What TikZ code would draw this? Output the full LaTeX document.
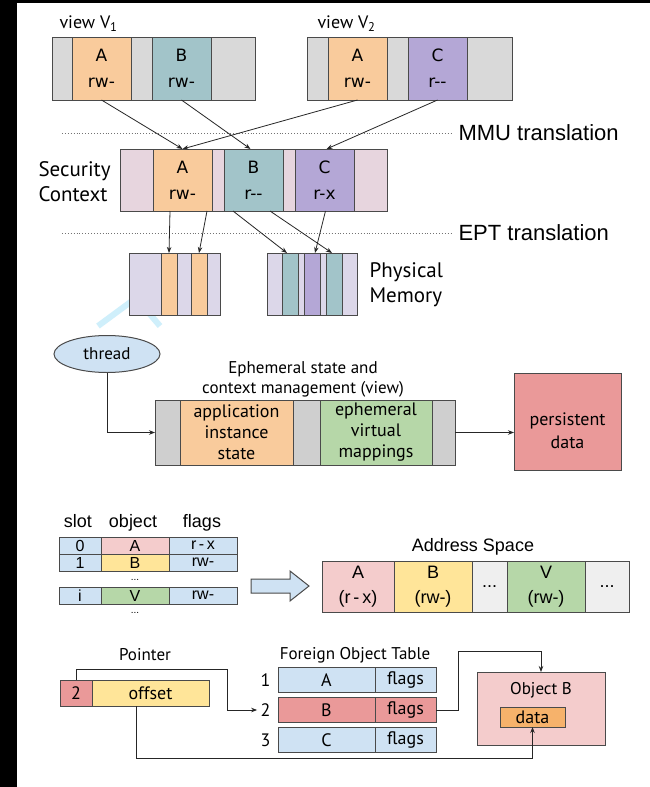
\documentclass[tikz,border=0pt]{standalone}
\usepackage{fontspec}
\setmainfont{Liberation Sans}
\newfontfamily\humfont{PT Sans}
\newfontfamily\boxfont{DejaVu Sans}
\usetikzlibrary{arrows.meta,calc,shapes.geometric}

\definecolor{edgec}{HTML}{4A4A4A}
\definecolor{grayc}{HTML}{D9D9D9}
\definecolor{midgrayc}{HTML}{CFCFCF}
\definecolor{orangec}{HTML}{F9CB9C}
\definecolor{tealc}{HTML}{A2C4C9}
\definecolor{purplec}{HTML}{B4A7D6}
\definecolor{ctxc}{HTML}{E7D5DE}
\definecolor{physc}{HTML}{DCD7E9}
\definecolor{greenc}{HTML}{B6D7A8}
\definecolor{redc}{HTML}{EA9999}
\definecolor{bluec}{HTML}{CFE2F3}
\definecolor{pinkc}{HTML}{F4CCCC}
\definecolor{yellowc}{HTML}{FFE599}
\definecolor{lgrayc}{HTML}{EFEFEF}
\definecolor{dataorange}{HTML}{F6B26B}
\definecolor{wmarkc}{HTML}{CFEFFB}

\tikzset{
  seg/.style={draw=edgec, line width=1pt, inner sep=0pt, outer sep=0pt, align=center},
  arr/.style={draw=black!85, line width=0.8pt, -{Stealth[length=6pt,width=4.5pt]}},
  guide/.style={draw=black!55, line width=0.9pt, dotted},
  permfont/.style={font=\boxfont\fontsize{17}{26}\selectfont},
  bigsans/.style={font=\fontsize{22}{26}\selectfont},
  humlabel/.style={font=\humfont\fontsize{21}{25}\selectfont},
  humtext/.style={font=\humfont\fontsize{17}{20}\selectfont},
  humcell/.style={font=\humfont\fontsize{18}{21}\selectfont},
  tabhead/.style={font=\fontsize{18}{20}\selectfont},
  tabcell/.style={font=\fontsize{16}{16}\selectfont},
  ascell/.style={font=\fontsize{18}{25}\selectfont},
  dotmark/.style={font=\fontsize{10}{10}\selectfont, inner sep=0pt},
}

% one rectangular cell of a bar: name, x1, x2, y1, y2, fill, text
\newcommand{\segnode}[8][]{%
  \node[seg, fill=#7, #1, minimum width={(#4-#3)*1pt}, minimum height={(#6-#5)*1pt}]
    (#2) at ({(#3+#4)/2},{(#5+#6)/2}) {#8};}

\begin{document}
\begin{tikzpicture}[x=1pt, y=-1pt]
\useasboundingbox (0,0) rectangle (650,787);
\fill[white] (0,0) rectangle (650,787);
\fill[black] (0,0) rectangle (17,787);
\fill[black] (0,0) rectangle (650,3);

% ---------- views, security context, physical memory ----------
\node[anchor=base west, font=\humfont\fontsize{18}{20}\selectfont] (lv1) at (56,28) {view V\textsubscript{1}};
\node[anchor=base west, font=\humfont\fontsize{18}{20}\selectfont] (lv2) at (314,28) {view V\textsubscript{2}};

\segnode{v1g1}{52}{72}{37}{100}{grayc}{}
\segnode[permfont]{v1a}{72}{131}{37}{100}{orangec}{A\\rw-}
\segnode{v1g2}{131}{152}{37}{100}{grayc}{}
\segnode[permfont]{v1b}{152}{211}{37}{100}{tealc}{B\\rw-}
\segnode{v1g3}{211}{255}{37}{100}{grayc}{}

\segnode{v2g1}{307}{328}{37}{100}{grayc}{}
\segnode[permfont]{v2a}{328}{387}{37}{100}{orangec}{A\\rw-}
\segnode{v2g2}{387}{408}{37}{100}{grayc}{}
\segnode[permfont]{v2c}{408}{467}{37}{100}{purplec}{C\\r-{}-}
\segnode{v2g3}{467}{512}{37}{100}{grayc}{}

\node[anchor=west, bigsans] (mmu) at (455,133) {MMU translation};
\coordinate (mmustart) at (62,133);
\draw[guide] (mmustart) -- ([xshift=-4pt]mmu.west);

\node[anchor=west, humlabel, align=left] (secctx) at (35,182) {Security\\Context};
\segnode{sc1}{120}{153}{149}{211}{ctxc}{}
\segnode[permfont]{sa}{153}{212}{149}{211}{orangec}{A\\rw-}
\segnode{sc2}{212}{224}{149}{211}{ctxc}{}
\segnode[permfont]{sb}{224}{283}{149}{211}{tealc}{B\\r-{}-}
\segnode{sc3}{283}{295}{149}{211}{ctxc}{}
\segnode[permfont]{sc}{295}{354}{149}{211}{purplec}{C\\r-x}
\segnode{sc4}{354}{387}{149}{211}{ctxc}{}

\draw[arr] (v1a.south) -- (sa.north);
\draw[arr] (v2a.south) -- (sa.north);
\draw[arr] (v1b.south) -- ([xshift=-3pt]sb.north);
\draw[arr] (v2c.south) -- ([xshift=2pt]sc.north);

\node[anchor=west, bigsans] (ept) at (455,233) {EPT translation};
\coordinate (eptstart) at (62,233);
\draw[guide] (eptstart) -- ([xshift=-4pt]ept.west);

% faint mark partly hidden by the first memory block
\draw[wmarkc, line width=6pt] (98,326) -- (136,298) -- (160,326);

\segnode{p1a}{129}{161}{253}{315}{physc}{}
\segnode{p1o1}{161}{177}{253}{315}{orangec}{}
\segnode{p1b}{177}{191}{253}{315}{physc}{}
\segnode{p1o2}{191}{207}{253}{315}{orangec}{}
\segnode{p1c}{207}{220}{253}{315}{physc}{}

\segnode{p2a}{267}{282}{253}{315}{physc}{}
\segnode{p2t1}{282}{298}{253}{315}{tealc}{}
\segnode{p2b}{298}{304}{253}{315}{physc}{}
\segnode{p2p}{304}{320}{253}{315}{purplec}{}
\segnode{p2c}{320}{326}{253}{315}{physc}{}
\segnode{p2t2}{326}{342}{253}{315}{tealc}{}
\segnode{p2d}{342}{357}{253}{315}{physc}{}

\node[anchor=west, humlabel, align=left] (physmem) at (366,285) {Physical\\Memory};

\draw[arr] ([xshift=17pt]sa.south west) -- (p1o1.north);
\draw[arr] ([xshift=-5pt]sa.south east) -- (p1o2.north);
\draw[arr] ([xshift=9pt]sb.south west) -- ([xshift=-3pt]p2t1.north);
\draw[arr] ([xshift=-13pt]sb.south east) -- ([xshift=-2pt]p2t2.north);
\draw[arr] ([xshift=1pt]sc.south) -- ([xshift=3pt]p2p.north);

% ---------- ephemeral state ----------
\node[ellipse, draw=edgec, line width=1pt, fill=bluec, minimum width=106pt, minimum height=37pt,
      inner sep=0pt, humtext] (thread) at (107,354) {thread};
\node[humtext, align=center] (ephtitle) at (303,379) {Ephemeral state and\\context management (view)};

\segnode{eg1}{155}{180}{400}{465}{midgrayc}{}
\segnode[humcell]{eapp}{180}{293}{400}{465}{orangec}{application\\instance\\state}
\segnode{eg2}{293}{320}{400}{465}{midgrayc}{}
\segnode[humcell]{emap}{320}{432}{400}{465}{greenc}{ephemeral\\virtual\\mappings}
\segnode{eg3}{432}{455}{400}{465}{midgrayc}{}

\segnode{pers}{514}{621}{373}{470}{redc}{}
\node[font=\humfont\fontsize{18}{23}\selectfont, align=center] (perstext) at (567.5,431) {persistent\\data};

\draw[arr] (thread.south) |- (eg1.west);
\draw[arr] (eg3.east) -- (eg3.east -| pers.west);

% ---------- object table and address space ----------
\node[tabhead, anchor=base] (hslot) at (78,527) {slot};
\node[tabhead, anchor=base] (hobj) at (133,527) {object};
\node[tabhead, anchor=base] (hflags) at (202,527) {flags};

\segnode[tabcell]{t0s}{59}{101}{537}{554}{bluec}{0}
\segnode[tabcell]{t0o}{101}{169}{537}{554}{pinkc}{A}
\segnode[tabcell]{t0f}{169}{237}{537}{554}{bluec}{r\,-\,x}
\segnode[tabcell]{t1s}{59}{101}{554}{571}{bluec}{1}
\segnode[tabcell]{t1o}{101}{169}{554}{571}{yellowc}{B}
\segnode[tabcell]{t1f}{169}{237}{554}{571}{bluec}{rw-}
\segnode[tabcell]{tis}{59}{101}{587}{604}{bluec}{i}
\segnode[tabcell]{tio}{101}{169}{587}{604}{greenc}{V}
\segnode[tabcell]{tif}{169}{237}{587}{604}{bluec}{rw-}
\node[dotmark, anchor=base] (dots1) at (135,580) {...};
\node[dotmark, anchor=base] (dots2) at (135,613) {...};

\draw[edgec, line width=1pt, fill=bluec]
  (251,579) -- (290,579) -- (290,571) -- (309,586) -- (290,601) -- (290,593) -- (251,593) -- cycle;

\node[tabhead, anchor=base] (aslbl) at (473,551) {Address Space};
\segnode[ascell]{asa}{322}{394}{561}{612}{pinkc}{A\\(r\,-\,x)}
\segnode[ascell]{asb}{394}{472}{561}{612}{yellowc}{B\\(rw-)}
\segnode[ascell]{asd1}{472}{507}{561}{612}{lgrayc}{...}
\segnode[ascell]{asv}{507}{585}{561}{612}{greenc}{V\\(rw-)}
\segnode[ascell]{asd2}{585}{629}{561}{612}{lgrayc}{...}

% ---------- pointer and foreign object table ----------
\node[humtext] (ptrlbl) at (145,655) {Pointer};
\segnode[humcell]{pr}{60}{92}{680}{706}{redc}{2}
\segnode[humcell]{py}{92}{209}{680}{706}{yellowc}{offset}

\node[humtext] (fotlbl) at (355,655) {Foreign Object Table};
\segnode[humcell]{fa}{278}{375}{667.5}{692.5}{bluec}{A}
\segnode[humcell]{f1}{375}{436}{667.5}{692.5}{bluec}{flags}
\segnode[humcell]{fb}{278}{375}{697.5}{722.5}{redc}{B}
\segnode[humcell]{f2}{375}{436}{697.5}{722.5}{redc}{flags}
\segnode[humcell]{fc}{278}{375}{727.5}{752.5}{bluec}{C}
\segnode[humcell]{f3}{375}{436}{727.5}{752.5}{bluec}{flags}
\node[humcell, anchor=east] (n1) at (274,680) {1};
\node[humcell, anchor=east] (n2) at (274,710) {2};
\node[humcell, anchor=east] (n3) at (274,740) {3};

\segnode{objb}{477}{605}{672}{745}{pinkc}{}
\node[humtext] (objtitle) at (541,690) {Object B};
\segnode[humcell]{data}{500}{565}{707}{727}{dataorange}{data}

\draw[arr] (pr.north) -- ++(0,-11) -| ($(n2.west)+(-30,0)$) -- (n2.west);
\draw[arr] (f2.east) -- ++(22,0) |- ($(objb.north)+(0,-21)$) -- (objb.north);
\draw[arr] ($(py.south)+(-14,0)$) |- ($(data.south)+(0,31)$) -- (data.south);
\end{tikzpicture}
\end{document}
